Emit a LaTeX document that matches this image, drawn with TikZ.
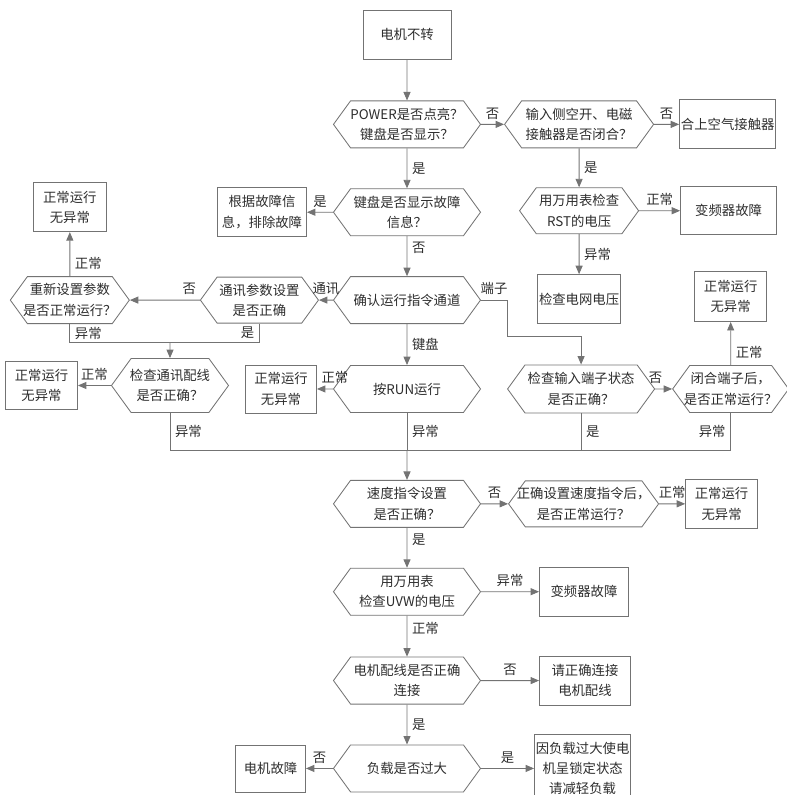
\documentclass[tikz,border=0pt]{standalone}
\usepackage{fontspec}
\setmainfont{Noto Sans CJK SC}
\usetikzlibrary{arrows.meta,positioning,shapes.symbols}
\definecolor{linegray}{RGB}{115,115,115}
\definecolor{textgray}{RGB}{45,45,45}

\begin{document}
\begin{tikzpicture}[x=0.025cm, y=-0.025cm, color=linegray, line width=0.6pt,
  every node/.style={font=\fontsize{9.5}{14.5}\selectfont, text=textgray},
  box/.style={draw, align=center, inner sep=1pt},
  hexa/.style={draw, signal, signal to=west and east, signal pointer angle=108, align=center, inner xsep=-0.3cm, inner ysep=1pt, minimum height=1.175cm},
  arr/.style={-{Triangle[length=6pt,width=5pt]}}]
\useasboundingbox (0,0) rectangle (787,795);
% main column
\node[box, minimum width=2.2cm, minimum height=1.225cm] (start) at (407,34.5) {电机不转};
\node[hexa, minimum width=3.675cm, below=1.025cm of start] (power) {POWER是否点亮？\\键盘是否显示？};
\node[hexa, minimum width=3.675cm, below=1cm of power] (faultq) {键盘是否显示故障\\信息？};
\node[hexa, minimum width=3.675cm, below=1cm of faultq] (chan) {确认运行指令通道};
\node[hexa, minimum width=3.675cm, below=1.025cm of chan] (run) {按RUN运行};
\node[hexa, minimum width=3.675cm, below=1.675cm of run] (speed) {速度指令设置\\是否正确？};
\node[hexa, minimum width=3.675cm, below=1cm of speed] (uvw) {用万用表\\检查UVW的电压};
\node[hexa, minimum width=3.675cm, below=1.025cm of uvw] (wiring) {电机配线是否正确\\连接};
\node[hexa, minimum width=3.675cm, below=1cm of wiring] (load) {负载是否过大};
% right side
\node[hexa, minimum width=3.725cm, right=0.575cm of power] (input) {输入侧空开、电磁\\接触器是否闭合？};
\node[box, minimum width=2.4cm, minimum height=1.225cm, right=0.625cm of input] (airsw) {合上空气接触器};
\node[hexa, minimum width=2.975cm, minimum height=1.15cm, below=0.975cm of input] (rst) {用万用表检查\\RST的电压};
\node[box, minimum width=2.4cm, minimum height=1.2cm, right=1.025cm of rst] (inv1) {变频器故障};
\node[box, minimum width=2cm, minimum height=1.225cm, below=1cm of rst] (grid) {检查电网电压};
\node[hexa, minimum width=3.675cm, minimum height=1.2cm, right=0.65cm of run] (term) {检查输入端子状态\\是否正确？};
\node[hexa, minimum width=2.9cm, right=0.425cm of term] (closeterm) {闭合端子后，\\是否正常运行？};
\node[box, minimum width=1.8cm, minimum height=1.25cm, above=1.075cm of closeterm] (ok4) {正常运行\\无异常};
\node[hexa, minimum width=3.75cm, minimum height=1.15cm, right=0.675cm of speed] (speedok) {正确设置速度指令后，\\是否正常运行？};
\node[box, minimum width=1.8cm, minimum height=1.225cm, right=0.65cm of speedok] (ok5) {正常运行\\无异常};
\node[box, minimum width=2.225cm, minimum height=1.225cm, right=1.45cm of uvw] (inv2) {变频器故障};
\node[box, minimum width=2.275cm, minimum height=1.225cm, right=1.45cm of wiring] (wirebox) {请正确连接\\电机配线};
\node[box, minimum width=2.35cm, minimum height=1.7cm, right=1.325cm of load] (lockbox) {因负载过大使电\\机呈锁定状态\\请减轻负载};
% left side
\node[box, minimum width=2.225cm, minimum height=1.225cm, left=0.65cm of faultq] (info) {根据故障信\\息，排除故障};
\node[hexa, minimum width=2.95cm, minimum height=1.15cm, left=0.35cm of chan] (comm) {通讯参数设置\\是否正确};
\node[hexa, minimum width=2.975cm, left=1.75cm of comm] (reset) {重新设置参数\\是否正常运行？};
\node[box, minimum width=1.825cm, minimum height=1.225cm, above=1.1cm of reset] (ok1) {正常运行\\无异常};
\node[hexa, minimum width=2.925cm, minimum height=1.35cm] (commwire) at (170,385.5) {检查通讯配线\\是否正确？};
\node[box, minimum width=1.8cm, minimum height=1.2cm, left=0.825cm of commwire] (ok2) {正常运行\\无异常};
\node[box, minimum width=1.775cm, minimum height=1.2cm, left=0.4cm of run] (ok3) {正常运行\\无异常};
\node[box, minimum width=1.75cm, minimum height=1.175cm, left=0.675cm of load] (motor) {电机故障};
\coordinate[above=0.4cm of commwire.north] (cjoin);
\coordinate[below=0.95cm of run.south] (merge);
% connectors
\draw[arr] (start) -- (power);
\draw[arr] (power) -- node[above]{否} (input);
\draw[arr] (input) -- node[above]{否} (airsw);
\draw[arr] (power) -- node[right]{是} (faultq);
\draw[arr] (input) -- node[right]{是} (rst);
\draw[arr] (rst) -- node[above]{正常} (inv1);
\draw[arr] (rst) -- node[right]{异常} (grid);
\draw[arr] (faultq) -- node[above]{是} (info);
\draw[arr] (faultq) -- node[right, pos=0.3]{否} (chan);
\draw[arr] (chan) -- node[above]{通讯} (comm);
\draw[arr] (chan) -- node[right]{键盘} (run);
\draw[arr] (chan.east) -- node[above]{端子} ++(0.65cm,0) |- ([yshift=0.7cm]term.north) -- (term.north);
\draw[arr] (comm) -- node[above, pos=0.15]{否} (reset);
\draw[arr] (reset) -- node[right, pos=0.3]{正常} (ok1);
\draw (reset.south) -- node[right]{异常} (reset.south |- cjoin) -- (comm.south |- cjoin) -- node[left]{是} (comm.south);
\draw[arr] (cjoin) -- (commwire);
\draw[arr] (commwire) -- node[above]{正常} (ok2);
\draw[arr] (run) -- node[above, xshift=0.25cm]{正常} (ok3);
\draw[arr] (term) -- node[above, xshift=-0.2cm]{否} (closeterm);
\draw[arr] (closeterm) -- node[right, pos=0.3]{正常} (ok4);
\draw (commwire.south) -- node[right]{异常} (commwire.south |- merge) -- (closeterm.south |- merge) -- node[left]{异常} (closeterm.south);
\draw (run.south) -- node[right]{异常} (merge);
\draw (term.south) -- node[right]{是} (term.south |- merge);
\draw[arr] (merge) -- (speed);
\draw[arr] (speed) -- node[above]{否} (speedok);
\draw[arr] (speedok) -- node[above]{正常} (ok5);
\draw[arr] (speed) -- node[right, pos=0.3]{是} (uvw);
\draw[arr] (uvw) -- node[above]{异常} (inv2);
\draw[arr] (uvw) -- node[right, pos=0.3]{正常} (wiring);
\draw[arr] (wiring) -- node[above]{否} (wirebox);
\draw[arr] (wiring) -- node[right]{是} (load);
\draw[arr] (load) -- node[above]{否} (motor);
\draw[arr] (load) -- node[above]{是} (lockbox);
\end{tikzpicture}
\end{document}
